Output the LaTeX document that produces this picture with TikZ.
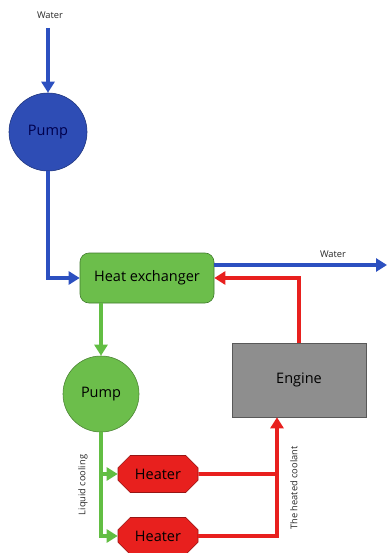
\documentclass[tikz,border=0pt]{standalone}
\usepackage{fontspec}
\setmainfont{Open Sans}
\usetikzlibrary{arrows.meta, positioning, shapes.misc}
\definecolor{cwblue}{HTML}{2C50C0}
\definecolor{cwbluefill}{HTML}{2E4DB5}
\definecolor{cwgreen}{HTML}{62BE43}
\definecolor{cwgreenfill}{HTML}{6CBE4B}
\definecolor{cwred}{HTML}{E8201E}
\definecolor{cwgray}{HTML}{8E8E8E}

\begin{document}
\begin{tikzpicture}[
    x=1pt, y=-1pt,
    pump/.style={circle, draw=#1!70!black, fill=#1, line width=0.6pt,
                 minimum size=78pt, inner sep=0pt, font=\fontsize{14.5}{16}\selectfont},
    hxbox/.style={rectangle, rounded corners=9pt, draw=cwgreen!65!black, fill=cwgreenfill,
                  minimum width=134pt, minimum height=50pt, line width=0.6pt,
                  font=\fontsize{14.5}{16}\selectfont},
    enginebox/.style={rectangle, draw=black!65, fill=cwgray, line width=0.6pt,
                      minimum width=134pt, minimum height=74pt,
                      font=\fontsize{14.5}{16}\selectfont},
    heaterbox/.style={chamfered rectangle, chamfered rectangle xsep=7pt,
                      chamfered rectangle ysep=7pt, draw=cwred!65!black, fill=cwred,
                      minimum width=80pt, minimum height=37pt, inner sep=0pt,
                      line width=0.6pt, font=\fontsize{14.5}{16}\selectfont},
    label/.style={font=\fontsize{9.3}{11}\selectfont, text=black!85},
    flow/.style={draw=#1, line width=3.6pt, -{Triangle[length=11pt, width=13pt]}},
    pipe/.style={draw=#1, line width=3.6pt}
  ]
    \useasboundingbox (0,0) rectangle (388,553);

    \node[pump=cwbluefill, text=blue!30!black] (pumpA) at (48,132) {Pump};
    \node[hxbox] (hx) at (147,278) {Heat exchanger};
    \node[pump=cwgreenfill, minimum size=76pt] (pumpB) at (101,394) {Pump};
    \node[enginebox] (engine) at (299,380) {Engine};
    \node[heaterbox] (heatA) at (158,474) {Heater};
    \node[heaterbox] (heatB) at (158,536) {Heater};

    \coordinate (win) at (48,28);
    \coordinate (wout) at (387,265);
    \coordinate (trunk) at ([xshift=-22pt]engine.south);

    \node[label] (winlabel) at (50,15) {Water};
    \node[label] (woutlabel) at (333,254) {Water};
    \node[label, rotate=90] (cooling) at (83,485) {Liquid cooling};
    \node[label, rotate=90] (coolant) at (294,488) {The heated coolant};

    \draw[flow=cwblue] (win) -- (pumpA);
    \draw[flow=cwblue] (pumpA) |- (hx);
    \draw[flow=cwblue] (hx.east |- wout) -- (wout);
    \draw[flow=cwred] (engine) |- (hx);
    \draw[flow=cwgreen] (hx.south -| pumpB) -- (pumpB);
    \draw[flow=cwgreen] (pumpB) |- (heatA);
    \draw[flow=cwgreen] (pumpB) |- (heatB);
    \draw[pipe=cwred] (heatA) -- (heatA -| trunk);
    \draw[flow=cwred] (heatB) -| (trunk);
  \end{tikzpicture}
\end{document}
